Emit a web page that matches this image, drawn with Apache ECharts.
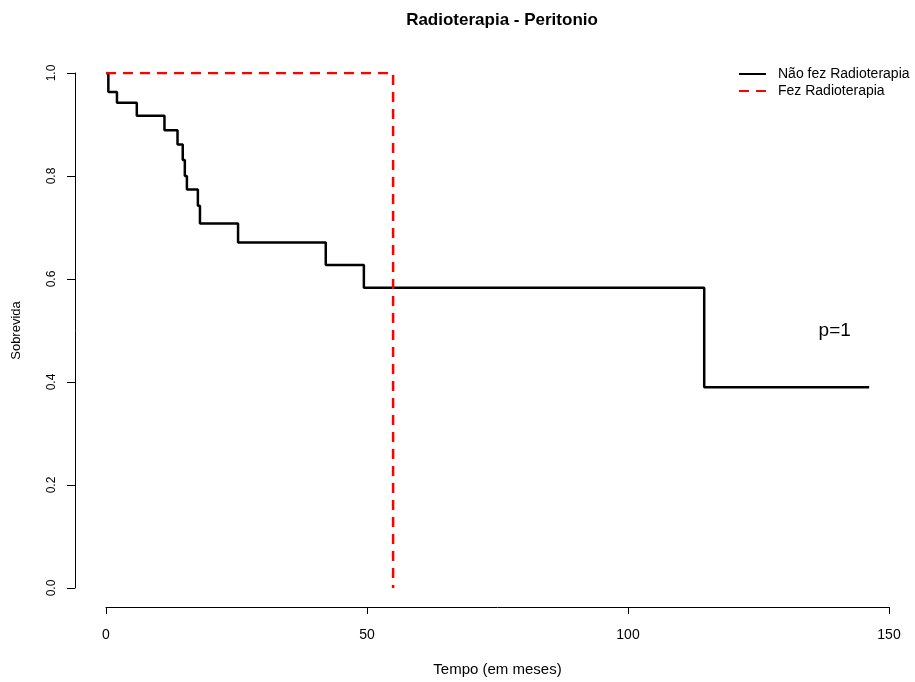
<!DOCTYPE html>
<html>
<head>
<meta charset="utf-8">
<script src="https://cdn.jsdelivr.net/npm/echarts@6/dist/echarts.min.js"></script>
<style>
html, body { margin: 0; padding: 0; background: #fff; }
#main { width: 915px; height: 682px; }
</style>
</head>
<body>
<div id="main"></div>
<script>
// ************* data *************
var chart_title = 'Radioterapia - Peritonio';
var x_name = 'Tempo (em meses)';
var y_name = 'Sobrevida';
var series_names = ['Não fez Radioterapia', 'Fez Radioterapia'];

// survival curve: time (months) and survival after each event
var nao_fez_time = [0, 0.45, 2.1, 5.9, 11.2, 13.7, 14.7, 15.1, 15.5, 17.6, 18.0, 25.3, 42.1, 49.4, 114.6, 146.2];
var nao_fez_surv = [1.0, 0.963, 0.942, 0.917, 0.889, 0.861, 0.831, 0.800, 0.774, 0.742, 0.708, 0.671, 0.627, 0.583, 0.390, 0.390];

var fez_time = [0, 55.0, 55.0];
var fez_surv = [1.0, 1.0, 0.0];

var p_text = 'p=1';
var p_pos = [139.6, 0.50];

var x_ticks = [0, 50, 100, 150];
var y_ticks = [0, 0.2, 0.4, 0.6, 0.8, 1.0];

// ************* chart *************
var font = 'Liberation Sans, Arial, sans-serif';
var main_dom = document.getElementById('main');
var main_chart = echarts.init(main_dom);

function zip(a, b) {
    var out = [];
    for (var i = 0; i < a.length; i++) out.push([a[i], b[i]]);
    return out;
}

var options = {
    backgroundColor: '#fff',
    animation: false,
    title: {
        text: chart_title,
        left: 497,
        top: 7,
        textAlign: 'center',
        textStyle: { fontFamily: font, fontSize: 17, fontWeight: 'bold', color: '#000' }
    },
    legend: {
        orient: 'vertical',
        left: 733,
        top: 62,
        itemWidth: 27,
        itemHeight: 12,
        itemGap: 3,
        itemStyle: { color: 'transparent', borderColor: 'transparent', borderWidth: 0 },
        textStyle: { fontFamily: font, fontSize: 14, color: '#000', padding: [0, 0, 0, 7] },
        data: series_names
    },
    grid: { left: 106, right: 26, top: 73, bottom: 94 },
    xAxis: {
        type: 'value',
        min: x_ticks[0],
        max: x_ticks[x_ticks.length - 1],
        interval: 50,
        offset: 19,
        name: x_name,
        nameLocation: 'middle',
        nameGap: 55,
        nameTextStyle: { fontFamily: font, fontSize: 15, color: '#000' },
        axisLine: { show: true, onZero: false, lineStyle: { color: '#000', width: 1 } },
        axisTick: { show: true, length: 7, lineStyle: { color: '#000' } },
        axisLabel: { fontFamily: font, fontSize: 14, color: '#000', margin: 21 },
        splitLine: { show: false }
    },
    yAxis: {
        type: 'value',
        min: y_ticks[0],
        max: y_ticks[y_ticks.length - 1],
        interval: 0.2,
        offset: 31,
        name: y_name,
        nameLocation: 'middle',
        nameGap: 52,
        nameTextStyle: { fontFamily: font, fontSize: 13, color: '#000' },
        axisLine: { show: true, onZero: false, lineStyle: { color: '#000', width: 1 } },
        axisTick: { show: true, length: 8, lineStyle: { color: '#000' } },
        axisLabel: {
            fontFamily: font, fontSize: 12, color: '#000', margin: 17, rotate: 90,
            formatter: function (v) { return v.toFixed(1); }
        },
        splitLine: { show: false }
    },
    series: [{
        name: series_names[0],
        type: 'line',
        step: 'end',
        symbol: 'none',
        color: '#000',
        lineStyle: { color: '#000', width: 2.5 },
        data: zip(nao_fez_time, nao_fez_surv),
        markPoint: {
            symbol: 'circle',
            symbolSize: 0,
            label: {
                show: true,
                formatter: p_text,
                fontFamily: font,
                fontSize: 19,
                color: '#000'
            },
            data: [{ coord: p_pos }]
        }
    }, {
        name: series_names[1],
        type: 'line',
        symbol: 'none',
        color: '#ff0000',
        lineStyle: { color: '#ff0000', width: 2.5, type: [10, 7] },
        data: zip(fez_time, fez_surv)
    }]
};

main_chart.setOption(options);
</script>
</body>
</html>
